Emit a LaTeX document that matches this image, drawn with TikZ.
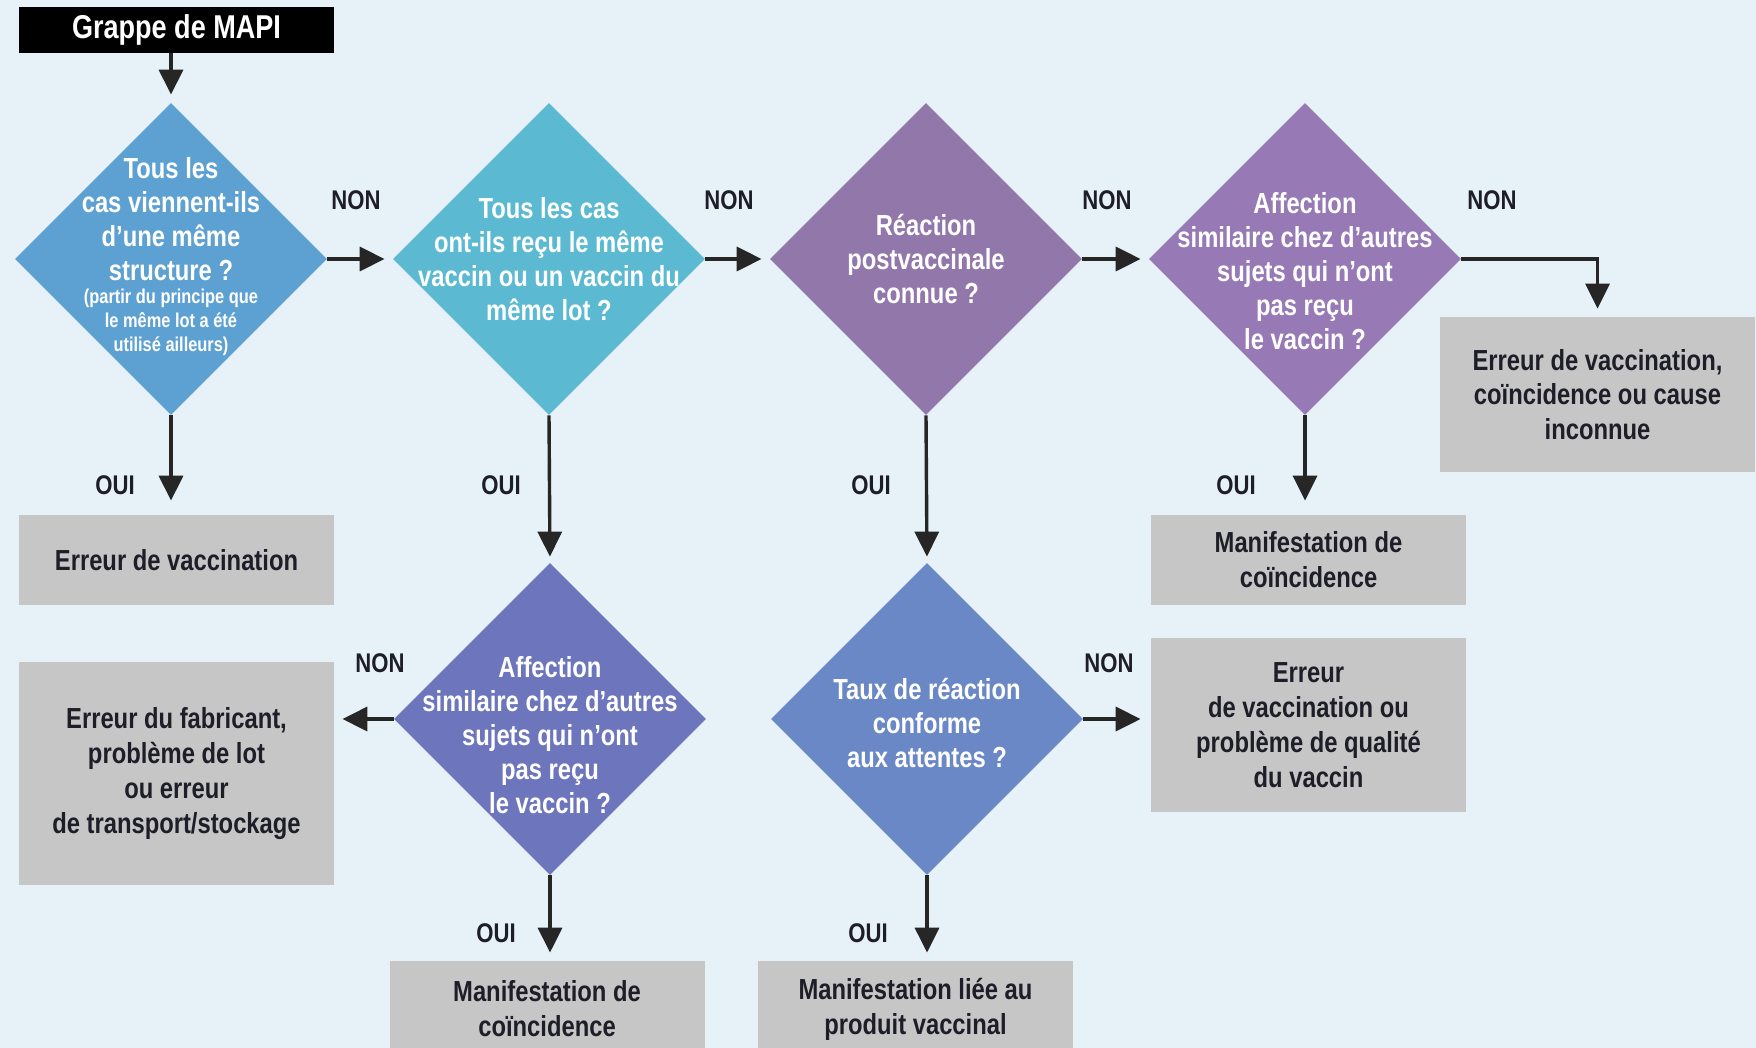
\documentclass[tikz,border=0pt]{standalone}
\usepackage{fontspec}
\usepackage{tikz}
\usetikzlibrary{shapes.geometric,arrows.meta}
\newfontfamily\narrowfont{Liberation Sans}[FakeStretch=0.82]
\definecolor{page_bg}{RGB}{230, 241, 248}
\definecolor{dia_blue}{RGB}{93, 161, 211}
\definecolor{dia_cyan}{RGB}{91, 186, 210}
\definecolor{dia_plum}{RGB}{146, 119, 171}
\definecolor{dia_violet}{RGB}{150, 121, 181}
\definecolor{dia_indigo}{RGB}{109, 117, 189}
\definecolor{dia_steel}{RGB}{106, 136, 198}
\definecolor{box_gray}{RGB}{198, 198, 198}
\definecolor{arrow_dark}{RGB}{38, 38, 38}
\definecolor{text_dark}{RGB}{30, 30, 40}

\begin{document}
\begin{tikzpicture}[x=0.5pt, y=-0.5pt,
  dia/.style={diamond, minimum width=156pt, minimum height=156pt, inner sep=0pt},
  qtext/.style={text=white, align=center, font=\narrowfont\bfseries\fontsize{14.5}{17}\selectfont},
  qsmall/.style={text=white, align=center, font=\narrowfont\bfseries\fontsize{10}{12}\selectfont},
  result/.style={fill=box_gray, minimum width=157.5pt, inner sep=0pt, align=center,
    text=text_dark, font=\narrowfont\bfseries\fontsize{14.5}{17.4}\selectfont},
  answer/.style={text=text_dark, font=\narrowfont\bfseries\fontsize{13.5}{16}\selectfont},
  arr/.style={arrow_dark, line width=1.7pt, -{Triangle[length=12.5pt,width=12pt]}, shorten >=4pt}]
\useasboundingbox (0,0) rectangle (1756,1048);
\clip (0,0) rectangle (1756,1048);
\fill[page_bg] (0,0) rectangle (1756,1048);

\node[fill=black, minimum width=157.5pt, minimum height=23pt, inner sep=0pt, text=white,
  font=\narrowfont\bfseries\fontsize{16.5}{18}\selectfont] (hdr) at (176.5,30) {Grappe de MAPI};

\node[dia, fill=dia_blue] (d1) at (171,259) {};
\node[dia, fill=dia_cyan] (d2) at (549,259) {};
\node[dia, fill=dia_plum] (d3) at (926,259) {};
\node[dia, fill=dia_violet] (d4) at (1305,259) {};
\node[dia, fill=dia_indigo] (d5) at (550,719) {};
\node[dia, fill=dia_steel] (d6) at (927,719) {};

\node[qtext] (t1) at (171,219) {Tous les\\cas viennent-ils\\d’une même\\structure ?};
\node[qsmall] (t1s) at (171,322) {(partir du principe que\\le même lot a été\\utilisé ailleurs)};
\node[qtext] (t2) at (549,259) {Tous les cas\\ont-ils reçu le même\\vaccin ou un vaccin du\\même lot ?};
\node[qtext] (t3) at (926,259) {Réaction\\postvaccinale\\connue ?};
\node[qtext] (t4) at (1305,271) {Affection\\similaire chez d’autres\\sujets qui n’ont\\pas reçu\\le vaccin ?};
\node[qtext] (t5) at (550,735) {Affection\\similaire chez d’autres\\sujets qui n’ont\\pas reçu\\le vaccin ?};
\node[qtext] (t6) at (927,723) {Taux de réaction\\conforme\\aux attentes ?};

\node[result, minimum height=45pt] (b1) at (176.5,560) {Erreur de vaccination};
\node[result, minimum height=111.5pt] (b2) at (176.5,773.5) {Erreur du fabricant,\\problème de lot\\ou erreur\\de transport/stockage};
\node[result, minimum height=48pt] (b3) at (547,1009) {Manifestation de\\coïncidence};
\node[result, minimum height=48pt] (b4) at (915.5,1009) {Manifestation liée au\\produit vaccinal};
\node[result, minimum height=45pt] (b5) at (1308.5,560) {Manifestation de\\coïncidence};
\node[result, minimum height=87pt] (b6) at (1308.5,725) {Erreur\\de vaccination ou\\problème de qualité\\du vaccin};
\node[result, minimum height=77.5pt] (b7) at (1597.5,394.5) {Erreur de vaccination,\\coïncidence ou cause\\inconnue};

\foreach \lab/\pos/\txt in {n1/{356,200}/NON, n2/{729,200}/NON, n3/{1107,200}/NON,
    n4/{1492,200}/NON, n5/{380,663}/NON, n6/{1109,663}/NON,
    o1/{115,485}/OUI, o2/{501,485}/OUI, o3/{871,485}/OUI, o4/{1236,485}/OUI,
    o5/{496,933}/OUI, o6/{868,933}/OUI}
  \node[answer] (\lab) at (\pos) {\txt};

\draw[arr] (hdr.south -| d1.north) -- (d1.north);
\foreach \a/\b in {d1/d2, d2/d3, d3/d4}
  \draw[arr] (\a.east) -- (\b.west);
\draw[arr] (d4.east) -| (b7.north);
\draw[arr, shorten >=7pt] (d1.south) -- (d1.south |- b1.north);
\draw[arr, shorten >=7pt] (d4.south) -- (d4.south |- b5.north);
\draw[arr, shorten >=3pt] (d2.south) -- (d5.north);
\draw[arr, shorten >=3pt] (d3.south) -- (d6.north);
\draw[arr] (d5.west) -- (d5.west -| b2.east);
\draw[arr] (d5.south) -- (d5.south |- b3.north);
\draw[arr, shorten >=5pt] (d6.east) -- (d6.east -| b6.west);
\draw[arr] (d6.south) -- (d6.south |- b4.north);
\end{tikzpicture}
\end{document}
